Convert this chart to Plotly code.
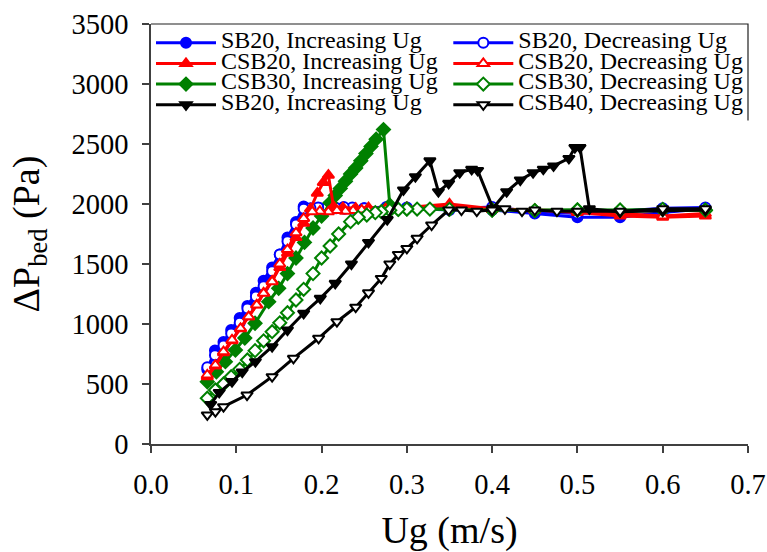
import plotly.graph_objects as go

# ---- data ----
x_sb20_inc = [0.066, 0.075, 0.085, 0.094, 0.104, 0.113, 0.123, 0.132, 0.142, 0.151, 0.160, 0.170, 0.179,
              0.189, 0.198, 0.208, 0.217, 0.227, 0.236, 0.250, 0.275, 0.300, 0.350, 0.400, 0.450, 0.500,
              0.550, 0.600, 0.650]
y_sb20_inc = [620, 780, 850, 950, 1050, 1150, 1260, 1360, 1470, 1580, 1720, 1850, 1980,
              1960, 1965, 1960, 1965, 1960, 1960, 1965, 1960, 1965, 1950, 1950, 1920, 1890,
              1890, 1930, 1960]

x_sb20_dec = [0.650, 0.600, 0.550, 0.500, 0.450, 0.400, 0.350, 0.300, 0.276, 0.250, 0.236, 0.226, 0.216,
              0.207, 0.196, 0.187, 0.179, 0.170, 0.160, 0.151, 0.142, 0.132, 0.123, 0.113, 0.104, 0.094,
              0.085, 0.075, 0.066]
y_sb20_dec = [1970, 1965, 1940, 1920, 1935, 1975, 1960, 1970, 1975, 1965, 1970, 1975, 1970,
              1975, 1970, 1965, 1960, 1830, 1690, 1580, 1440, 1315, 1230, 1130, 1010, 920,
              820, 740, 640]

x_csb20_inc = [0.066, 0.0755, 0.085, 0.095, 0.105, 0.1145, 0.124, 0.132, 0.142, 0.151, 0.160, 0.170,
               0.179, 0.187, 0.195, 0.202, 0.208, 0.214, 0.225, 0.240, 0.255, 0.275, 0.300, 0.350,
               0.400, 0.450, 0.500, 0.550, 0.600, 0.650]
y_csb20_inc = [560, 650, 760, 860, 960, 1060, 1160, 1260, 1360, 1470, 1590, 1720,
               1840, 1960, 2090, 2180, 2240, 1980, 1970, 1965, 1970, 1960, 1970, 2000,
               1960, 1950, 1930, 1900, 1890, 1900]

x_csb20_dec = [0.650, 0.600, 0.550, 0.500, 0.450, 0.400, 0.350, 0.300, 0.275, 0.255, 0.247, 0.237,
               0.228, 0.218, 0.208, 0.198, 0.189, 0.179, 0.170, 0.160, 0.151, 0.142, 0.132, 0.124,
               0.1145, 0.105, 0.095, 0.085, 0.0755, 0.066]
y_csb20_dec = [1920, 1900, 1920, 1940, 1950, 1955, 1990, 1965, 1955, 1945, 1950, 1945,
               1940, 1945, 1935, 1940, 1936, 1880, 1760, 1620, 1500, 1353, 1256, 1158,
               1061, 964, 867, 769, 658, 575]

x_csb30_inc = [0.066, 0.0767, 0.0872, 0.099, 0.110, 0.122, 0.138, 0.1497, 0.160, 0.170, 0.180, 0.190,
               0.200, 0.210, 0.216, 0.222, 0.228, 0.234, 0.240, 0.246, 0.252, 0.258, 0.264, 0.2726,
               0.280, 0.290, 0.300, 0.350, 0.400, 0.450, 0.500, 0.550, 0.600, 0.650]
y_csb30_inc = [519, 602, 686, 783, 883, 1006, 1186, 1297, 1420, 1550, 1680, 1800,
               1900, 2010, 2070, 2130, 2190, 2250, 2300, 2360, 2420, 2480, 2540, 2620,
               1990, 1955, 1960, 1960, 1950, 1945, 1950, 1945, 1950, 1945]

x_csb30_dec = [0.650, 0.600, 0.550, 0.500, 0.450, 0.400, 0.350, 0.327, 0.312, 0.300, 0.290, 0.280,
               0.270, 0.263, 0.253, 0.243, 0.234, 0.220, 0.210, 0.200, 0.190, 0.179, 0.170, 0.160,
               0.151, 0.142, 0.132, 0.122, 0.113, 0.104, 0.094, 0.085, 0.0755, 0.066]
y_csb30_dec = [1950, 1955, 1950, 1950, 1945, 1950, 1955, 1958, 1958, 1958, 1955, 1948,
               1936, 1928, 1908, 1889, 1853, 1750, 1650, 1550, 1420, 1289, 1200, 1094,
               1010, 936, 860, 778, 700, 622, 561, 500, 450, 381]

x_blk_inc = [0.070, 0.080, 0.095, 0.107, 0.1224, 0.142, 0.160, 0.179, 0.1985, 0.216, 0.235, 0.255,
             0.277, 0.296, 0.310, 0.327, 0.337, 0.349, 0.362, 0.376, 0.383, 0.401, 0.417, 0.433,
             0.448, 0.460, 0.472, 0.490, 0.497, 0.503, 0.514, 0.550, 0.600, 0.650]
y_blk_inc = [330, 430, 520, 600, 686, 811, 950, 1089, 1214, 1339, 1500, 1680,
             1870, 2117, 2228, 2360, 2103, 2172, 2261, 2289, 2280, 1964, 2103, 2200,
             2261, 2290, 2317, 2380, 2470, 2470, 1960, 1935, 1940, 1950]

x_csb40_dec = [0.650, 0.600, 0.550, 0.500, 0.476, 0.450, 0.435, 0.415, 0.400, 0.382, 0.364, 0.349,
               0.329, 0.312, 0.300, 0.290, 0.280, 0.270, 0.255, 0.240, 0.218, 0.1965, 0.167, 0.142,
               0.1126, 0.085, 0.0755, 0.066]
y_csb40_dec = [1960, 1960, 1940, 1940, 1940, 1950, 1940, 1960, 1950, 1940, 1950, 1950,
               1825, 1714, 1630, 1580, 1500, 1380, 1260, 1140, 1019, 881, 714, 561,
               408, 311, 269, 242]

names = ["SB20, Increasing Ug", "SB20, Decreasing Ug",
         "CSB20, Increasing Ug", "CSB20, Decreasing Ug",
         "CSB30, Increasing Ug", "CSB30, Decreasing Ug",
         "SB20, Increasing Ug", "CSB40, Decreasing Ug"]

FONT = "Liberation Serif"
BLUE, RED, GREEN, BLACK = "#0000FF", "#FF0000", "#008000", "#000000"

series = [
    (x_sb20_inc, y_sb20_inc, names[0], BLUE, "circle", False, "legend", 1),
    (x_sb20_dec, y_sb20_dec, names[1], BLUE, "circle", True, "legend2", 1),
    (x_csb30_inc, y_csb30_inc, names[4], GREEN, "diamond", False, "legend", 3),
    (x_csb20_inc, y_csb20_inc, names[2], RED, "triangle-up", False, "legend", 2),
    (x_csb20_dec, y_csb20_dec, names[3], RED, "triangle-up", True, "legend2", 2),
    (x_csb30_dec, y_csb30_dec, names[5], GREEN, "diamond", True, "legend2", 3),
    (x_blk_inc, y_blk_inc, names[6], BLACK, "triangle-down", False, "legend", 4),
    (x_csb40_dec, y_csb40_dec, names[7], BLACK, "triangle-down", True, "legend2", 4),
]

fig = go.Figure()
for xs, ys, nm, col, sym, is_open, lg, rank in series:
    fig.add_trace(go.Scatter(
        x=xs, y=ys, mode="lines+markers",
        name='<span style="font-size:24px">' + nm + '</span>',
        line=dict(color=col, width=3),
        marker=dict(symbol=sym, size=10,
                    color="white" if is_open else col,
                    line=dict(color=col, width=2)),
        legend=lg, legendrank=rank,
    ))

axis_common = dict(
    showline=True, linecolor="#404040", linewidth=1.5,
    ticks="outside", ticklen=7, tickwidth=1.5, tickcolor="#404040",
    showgrid=False, zeroline=False, automargin=False,
    tickfont=dict(family=FONT, size=28.5, color="black"),
)

fig.update_layout(
    width=767, height=552,
    margin=dict(l=150.5, r=19, t=24, b=108, autoexpand=False),
    paper_bgcolor="white", plot_bgcolor="white",
    font=dict(family=FONT, color="black"),
    xaxis=dict(range=[0, 0.7], dtick=0.1, tick0=0, tickformat=".1f",
               ticklabelstandoff=7,
               title=dict(text="Ug (m/s)", font=dict(family=FONT, size=38), standoff=22),
               **axis_common),
    yaxis=dict(range=[0, 3500], dtick=500, tick0=0,
               ticklabelstandoff=8,
               title=dict(text="ΔP<sub>bed</sub> (Pa)", font=dict(family=FONT, size=38), standoff=20),
               **axis_common),
    legend=dict(x=0.0, y=0.992, xanchor="left", yanchor="top",
                font=dict(family=FONT, size=13.6, color="black"),
                bgcolor="rgba(0,0,0,0)", borderwidth=0, itemwidth=60, tracegroupgap=0),
    legend2=dict(x=0.498, y=0.992, xanchor="left", yanchor="top",
                 font=dict(family=FONT, size=13.6, color="black"),
                 bgcolor="rgba(0,0,0,0)", borderwidth=0, itemwidth=60, tracegroupgap=0),
    shapes=[dict(type="path", xref="paper", yref="paper",
                 path="M 0 1 L 1 1 L 1 0.77",
                 line=dict(color="#202020", width=1.2))],
)

fig.write_html("out.html")
